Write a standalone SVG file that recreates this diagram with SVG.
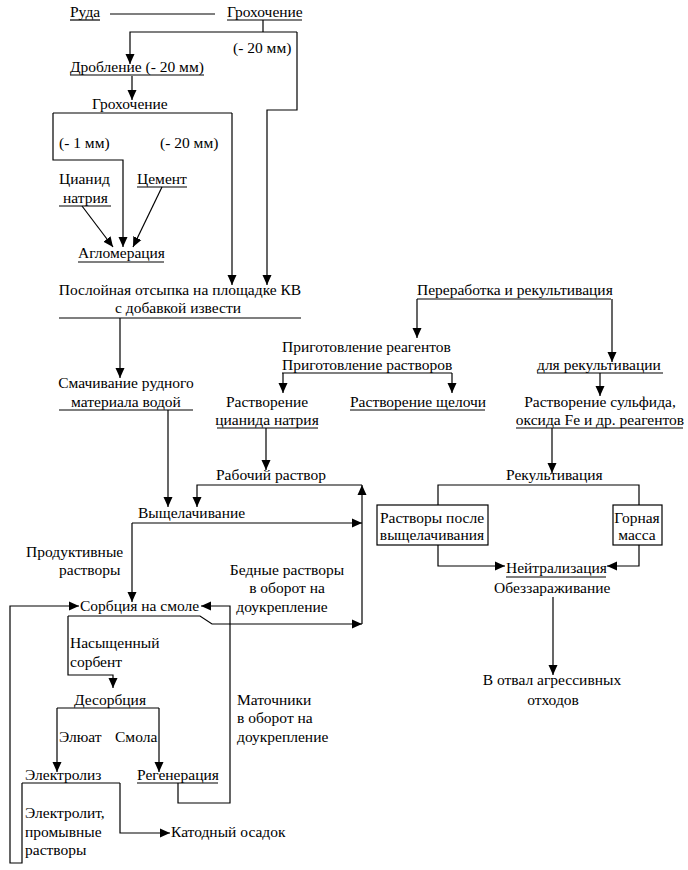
<svg xmlns="http://www.w3.org/2000/svg" width="688" height="870" viewBox="0 0 688 870" font-family="Liberation Serif, serif" font-size="15.5">
<style>
.l{stroke:#000;stroke-width:1.2;fill:none}
.a{stroke:#000;stroke-width:1.2;fill:none;marker-end:url(#ar)}
.m{text-anchor:middle}
</style>
<defs>
<marker id="ar" markerUnits="userSpaceOnUse" markerWidth="10" markerHeight="10" refX="10" refY="5" orient="auto">
<path d="M0,0.5 L10,5 L0,9.5 z" fill="#000"/>
</marker>
</defs>
<rect width="688" height="870" fill="#fff"/>
<g id="connectors">
<path class="l" d="M110,14 H215"/>
<path class="l" d="M263,20 V32"/>
<path class="a" d="M297,32 H130 V64"/>
<path class="a" d="M297,32 V110 H267 V285"/>
<path class="a" d="M132,76 V100"/>
<path class="l" d="M53,113 H232"/>
<path class="a" d="M53,113 V160 H123 V247"/>
<path class="a" d="M232,113 V285"/>
<path class="a" d="M82,206 L113,247"/>
<path class="a" d="M162,187 L133,247"/>
<path class="a" d="M120,318 V378"/>
<path class="a" d="M168,410 V507"/>
<path class="a" d="M417,299 V338"/>
<path class="a" d="M612,299 V362"/>
<path class="a" d="M283,373 V393"/>
<path class="a" d="M452,373 V393"/>
<path class="a" d="M600,373 V396"/>
<path class="a" d="M266,428 V470"/>
<path class="a" d="M552,428 V473"/>
<path class="l" d="M438,505 V485 H639 V505"/>
<path class="a" d="M438,545 V566 H505"/>
<path class="a" d="M639,545 V566 H607"/>
<path class="a" d="M553,597 V675"/>
<path class="a" d="M362,624 V485"/>
<path class="a" d="M362,485 H197 V507"/>
<path class="a" d="M132,523 H362"/>
<path class="a" d="M132,523 V602"/>
<path class="a" d="M68,616 H200 L212,624 H362"/>
<path class="a" d="M68,616 V675 H113 V688"/>
<path class="l" d="M57,708 H159"/>
<path class="a" d="M57,708 V772"/>
<path class="a" d="M159,708 V772"/>
<path class="l" d="M22,783 H120"/>
<path class="a" d="M120,783 V833 H170"/>
<path class="a" d="M22,783 V863 H10 V606 H79"/>
<path class="a" d="M178,783 V803 H230 V606 H201"/>
</g>
<g id="ruda"><text x="70" y="17">Руда</text><path class="l" d="M70,20 H100"/></g>
<g id="grohochenie1"><text x="227" y="17">Грохочение</text><path class="l" d="M227,20 H302"/></g>
<g id="lbl-20a"><text x="233" y="53">(- 20 мм)</text></g>
<g id="droblenie"><text x="70" y="72">Дробление (- 20 мм)</text><path class="l" d="M70,75 H204"/></g>
<g id="grohochenie2"><text x="92" y="109">Грохочение</text></g>
<g id="lbl-1"><text x="59" y="148">(- 1 мм)</text></g>
<g id="lbl-20b"><text x="160" y="148">(- 20 мм)</text></g>
<g id="cianid"><text x="59" y="184">Цианид</text><text x="63" y="203">натрия</text><path class="l" d="M59,206 H111"/></g>
<g id="cement"><text x="137" y="184">Цемент</text><path class="l" d="M137,187 H187"/></g>
<g id="aglomeracia"><text x="78" y="258">Агломерация</text><path class="l" d="M78,262 H164"/></g>
<g id="otsypka"><text class="m" x="180" y="295">Послойная отсыпка на площадке КВ</text><text class="m" x="178" y="313">с добавкой извести</text><path class="l" d="M59,318 H301"/></g>
<g id="smachivanie"><text class="m" x="126" y="388">Смачивание рудного</text><text class="m" x="126" y="407">материала водой</text><path class="l" d="M59,410 H193"/></g>
<g id="pererabotka"><text x="417" y="295">Переработка и рекультивация</text><path class="l" d="M417,299 H611"/></g>
<g id="prigotovlenie"><text x="282" y="352">Приготовление реагентов</text><text x="282" y="370">Приготовление растворов</text><path class="l" d="M282,373 H452"/></g>
<g id="dlya-rekult"><text x="537" y="370">для рекультивации</text><path class="l" d="M537,373 H663"/></g>
<g id="rastv-cianida"><text class="m" x="267" y="407">Растворение</text><text class="m" x="267" y="425">цианида натрия</text><path class="l" d="M217,428 H318"/></g>
<g id="rastv-shcheloch"><text x="350" y="407">Растворение щелочи</text><path class="l" d="M350,410 H485"/></g>
<g id="rastv-sulfida"><text class="m" x="600" y="407">Растворение сульфида,</text><text class="m" x="600" y="425">оксида Fe и др. реагентов</text><path class="l" d="M516,428 H683"/></g>
<g id="rabochiy"><text x="216" y="480">Рабочий раствор</text></g>
<g id="rekultivacia"><text x="506" y="480">Рекультивация</text></g>
<g id="vyshchelachivanie"><text x="138" y="518">Выщелачивание</text></g>
<g id="rastvory-posle"><rect class="l" x="377" y="505" width="111" height="40"/><text class="m" x="432" y="523">Растворы после</text><text class="m" x="432" y="540">выщелачивания</text></g>
<g id="gornaya"><rect class="l" x="613" y="505" width="49" height="40"/><text class="m" x="637" y="523">Горная</text><text class="m" x="637" y="540">масса</text></g>
<g id="produktivnye"><text x="26" y="557">Продуктивные</text><text x="59" y="575">растворы</text></g>
<g id="bednye"><text class="m" x="287" y="575">Бедные растворы</text><text class="m" x="287" y="593">в оборот на</text><text class="m" x="282" y="612">доукрепление</text></g>
<g id="neitralizacia"><text x="506" y="573">Нейтрализация</text><path class="l" d="M506,577 H606"/><text x="494" y="593">Обеззараживание</text></g>
<g id="sorbcia"><text x="80" y="611">Сорбция на смоле</text></g>
<g id="nasyshchenny"><text x="70" y="648">Насыщенный</text><text x="70" y="667">сорбент</text></g>
<g id="otval"><text class="m" x="552" y="685">В отвал агрессивных</text><text class="m" x="553" y="705">отходов</text></g>
<g id="desorbcia"><text x="74" y="705">Десорбция</text></g>
<g id="matochniki"><text x="237" y="705">Маточники</text><text x="237" y="723">в оборот на</text><text x="237" y="742">доукрепление</text></g>
<g id="eluat"><text x="59" y="742">Элюат</text></g>
<g id="smola"><text x="115" y="742">Смола</text></g>
<g id="elektroliz"><text x="25" y="780">Электролиз</text></g>
<g id="regeneracia"><text x="137" y="780">Регенерация</text><path class="l" d="M137,783 H218"/></g>
<g id="elektrolit"><text x="25" y="818">Электролит,</text><text x="25" y="837">промывные</text><text x="25" y="855">растворы</text></g>
<g id="katodny"><text x="171" y="837">Катодный осадок</text></g>
</svg>
